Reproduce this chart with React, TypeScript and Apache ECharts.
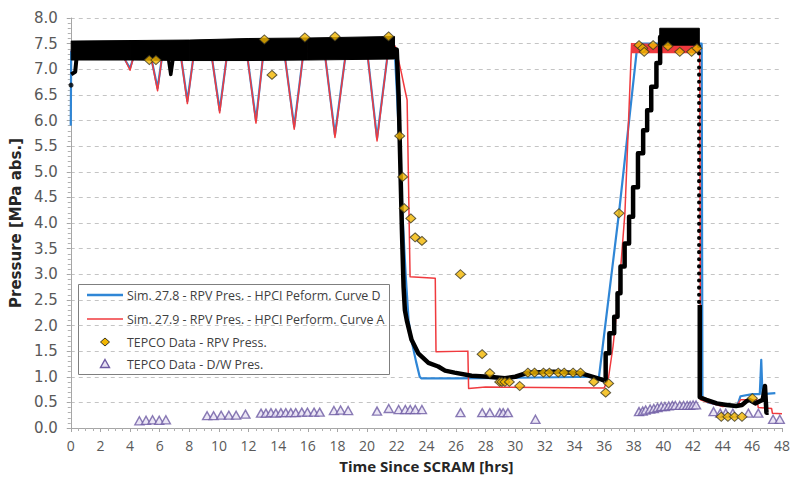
import React, { useEffect, useRef } from "react";
import * as echarts from "echarts";

// ---------- data ----------
const seriesNames = [
  "Sim. 27.8 - RPV Pres. - HPCI Peform. Curve D",
  "Sim. 27.9 - RPV Pres. - HPCI Perform. Curve A",
  "TEPCO Data - RPV Press.",
  "TEPCO Data - D/W Pres.",
];
const xTitle = "Time Since SCRAM [hrs]";
const yTitle = "Pressure [MPa abs.]";

// Sim 27.8 (blue)
const simD: number[][] = [
  [0, 5.9], [0.03, 7.35], [3.5, 7.35], [3.67, 7.18], [4.0, 7.02], [4.18, 7.18], [4.3, 7.35],
  [5.35, 7.35], [5.46, 7.18], [5.86, 6.63], [6.13, 7.18], [6.25, 7.35],
  [7.35, 7.35], [7.47, 7.18], [7.87, 6.38], [8.25, 7.18], [8.35, 7.35],
  [9.45, 7.35], [9.55, 7.18], [10.05, 6.2], [10.5, 7.18], [10.6, 7.35],
  [11.85, 7.35], [11.95, 7.18], [12.5, 6.0], [12.95, 7.18], [13.05, 7.35],
  [14.35, 7.35], [14.48, 7.18], [15.08, 5.88], [15.64, 7.18], [15.75, 7.35],
  [17.05, 7.35], [17.2, 7.18], [17.83, 5.72], [18.5, 7.18], [18.6, 7.35],
  [19.95, 7.35], [20.07, 7.18], [20.67, 5.65], [21.34, 7.18], [21.45, 7.35],
  [21.85, 7.45], [22.0, 6.6], [22.2, 5.4], [22.4, 4.1], [22.6, 3.0], [22.8, 2.1], [23.0, 1.7],
  [23.3, 1.3], [23.55, 1.0], [23.65, 0.97], [26, 0.97], [30, 0.98], [35.65, 1.0],
  [37.0, 4.2], [38.25, 7.5], [42.58, 7.5], [42.63, 0.6], [43.0, 0.5], [44.0, 0.43],
  [45.0, 0.45], [45.2, 0.62], [46.0, 0.66], [46.5, 0.66], [46.6, 1.33], [46.68, 0.66], [47.55, 0.68],
];

// Sim 27.9 (red)
const simA: number[][] = [
  [0, 7.35], [3.5, 7.35], [3.67, 7.18], [4.0, 6.98], [4.18, 7.18], [4.3, 7.35],
  [5.35, 7.35], [5.46, 7.18], [5.86, 6.58], [6.13, 7.18], [6.25, 7.35],
  [7.35, 7.35], [7.47, 7.18], [7.87, 6.33], [8.25, 7.18], [8.35, 7.35],
  [9.45, 7.35], [9.55, 7.18], [10.05, 6.15], [10.5, 7.18], [10.6, 7.35],
  [11.85, 7.35], [11.95, 7.18], [12.5, 5.95], [12.95, 7.18], [13.05, 7.35],
  [14.35, 7.35], [14.48, 7.18], [15.08, 5.83], [15.64, 7.18], [15.75, 7.35],
  [17.05, 7.35], [17.2, 7.18], [17.83, 5.67], [18.5, 7.18], [18.6, 7.35],
  [19.95, 7.35], [20.07, 7.18], [20.67, 5.6], [21.34, 7.18], [21.45, 7.35],
  [21.9, 7.45], [22.3, 6.95], [22.55, 6.6], [22.7, 6.4], [22.9, 2.95], [24.6, 2.92],
  [24.65, 1.49], [26.8, 1.5], [26.85, 0.77], [28.0, 0.8], [36.0, 0.78], [36.3, 1.0],
  [36.6, 1.6], [37.0, 2.7], [37.4, 4.2], [37.85, 7.5], [42.45, 7.45], [42.5, 0.55],
  [43.0, 0.5], [44.0, 0.42], [45.0, 0.45], [45.2, 0.55], [46.3, 0.55], [46.4, 0.4],
  [47.3, 0.38], [47.35, 0.29], [48.0, 0.28],
];
const simATop: number[][] = [[37.85, 7.4], [42.45, 7.4]];

// Unlabelled black trace
const blackBandT = [0.03, 4, 8, 12, 16, 21.85];
const blackBandLow = [7.18, 7.18, 7.17, 7.17, 7.18, 7.2];
const blackBandHigh = [7.55, 7.56, 7.57, 7.6, 7.61, 7.64];
const blackBand2T = [39.75, 42.42];
const blackBand2Low = [7.47, 7.47];
const blackBand2High = [7.8, 7.8];
const blackStartDot: number[][] = [[0.02, 6.69]];
const blackEdge: number[][] = [[0.03, 6.9], [0.3, 6.95], [0.4, 7.25]];
const blackSpike: number[][] = [[6.6, 7.2], [6.75, 6.9], [6.9, 7.2]];
const blackDecay: number[][] = [
  [21.75, 7.4], [22.0, 7.38], [22.13, 6.47], [22.24, 5.16], [22.35, 3.86], [22.46, 2.76],
  [22.55, 2.3], [22.68, 2.1], [23.0, 1.72], [23.47, 1.45], [24.14, 1.27], [24.8, 1.2],
  [25.26, 1.12], [25.9, 1.08], [27.05, 1.02], [28.2, 1.0], [29.3, 0.97], [30.0, 1.0],
  [30.85, 1.08], [32.6, 1.1], [34.4, 1.07], [35.8, 0.95], [36.05, 0.92],
];
const blackStairs: number[][] = [
  [36.05, 0.92], [36.15, 1.46], [36.55, 1.85], [36.8, 2.17], [37.0, 2.63], [37.2, 3.15],
  [37.56, 3.6], [37.8, 4.12], [38.1, 4.7], [38.46, 5.36], [38.8, 5.81], [39.0, 6.2],
  [39.35, 6.66], [39.7, 7.12], [39.85, 7.63],
];
const blackDropDots: number[][] = [[42.4, 7.45], [42.4, 2.4]];
const blackTail: number[][] = [
  [42.45, 2.4], [42.45, 0.6], [42.9, 0.55], [43.6, 0.48], [44.27, 0.45], [44.9, 0.43],
  [45.3, 0.45], [45.6, 0.52], [45.8, 0.55], [46.2, 0.48], [46.7, 0.55], [46.85, 0.82],
  [46.95, 0.3], [47.1, 0.3],
];

// TEPCO RPV pressure (diamonds)
const tepcoRpv: number[][] = [
  [5.3, 7.18], [5.75, 7.18], [13.07, 7.58], [13.58, 6.89], [15.8, 7.62], [17.83, 7.64],
  [21.45, 7.64], [22.2, 5.7], [22.4, 4.9], [22.5, 4.29], [22.95, 4.09], [23.24, 3.72],
  [23.7, 3.65], [26.3, 3.0], [27.76, 1.44], [28.28, 1.07], [28.95, 0.9], [29.1, 0.9],
  [29.3, 0.9], [29.6, 0.9], [30.3, 0.82], [30.85, 1.08], [31.3, 1.08], [31.9, 1.08],
  [32.3, 1.08], [32.9, 1.08], [33.3, 1.08], [33.9, 1.08], [34.4, 1.08], [35.3, 0.9],
  [36.1, 0.69], [36.3, 0.87], [37.0, 4.19], [38.35, 7.47], [38.6, 7.41], [38.7, 7.34],
  [39.3, 7.47], [40.3, 7.45], [41.1, 7.34], [41.9, 7.34], [42.26, 7.41],
  [43.9, 0.22], [44.35, 0.22], [44.8, 0.22], [45.3, 0.22], [46.0, 0.58],
];

// TEPCO D/W pressure (triangles)
const tepcoDw: number[][] = [
  [4.63, 0.14], [5.08, 0.15], [5.52, 0.16], [5.97, 0.15], [6.42, 0.16],
  [9.2, 0.24], [9.64, 0.24], [10.15, 0.25], [10.67, 0.25], [11.16, 0.25], [11.79, 0.27],
  [12.84, 0.29], [13.17, 0.29], [13.51, 0.3], [13.84, 0.29], [14.18, 0.3], [14.51, 0.3],
  [14.85, 0.3], [15.18, 0.3], [15.59, 0.31], [15.97, 0.31], [16.42, 0.31], [16.8, 0.31],
  [17.76, 0.34], [18.21, 0.35], [18.72, 0.34],
  [20.67, 0.33], [21.46, 0.38], [22.13, 0.36], [22.58, 0.36], [22.91, 0.36], [23.25, 0.36], [23.7, 0.36],
  [26.3, 0.3], [27.77, 0.3], [28.28, 0.3], [28.95, 0.3], [29.18, 0.3], [29.5, 0.3],
  [31.36, 0.17],
  [38.35, 0.32], [38.6, 0.33], [38.8, 0.35], [39.1, 0.37], [39.35, 0.38], [39.6, 0.4],
  [39.85, 0.42], [40.1, 0.42], [40.36, 0.43], [40.6, 0.44], [40.8, 0.44], [41.1, 0.44],
  [41.36, 0.44], [41.6, 0.44], [41.8, 0.44], [42.0, 0.45], [42.2, 0.45],
  [43.38, 0.32], [43.83, 0.29], [44.2, 0.29], [44.68, 0.29], [45.73, 0.29], [46.4, 0.29],
  [47.4, 0.17], [47.85, 0.17],
];

// ---------- styles ----------
const FONT = "Open Sans, Noto Sans, sans-serif";
const WIDE_FONT = "DejaVu Sans, Open Sans, sans-serif";
const BLUE = "#2f86d6";
const RED = "#f03a3e";
const YELLOW = "#f2b600";
const DIAMOND_EDGE = "#3b3620";
const TRI_EDGE = "#6d5aa3";
const TRI_FILL = "#e6e0f2";

function bandSeries(T: number[], lo: number[], hi: number[]) {
  return {
    type: "custom",
    clip: false,
    silent: true,
    z: 3,
    data: T.map((t, i) => [t, lo[i], hi[i]]),
    encode: { x: 0, y: 1 },
    renderItem: (params: any, api: any) => {
      const i = params.dataIndex;
      if (i >= T.length - 1) return null;
      const a = api.coord([T[i], lo[i]]);
      const b = api.coord([T[i + 1], lo[i + 1]]);
      const c = api.coord([T[i + 1], hi[i + 1]]);
      const d = api.coord([T[i], hi[i]]);
      return {
        type: "polygon",
        shape: { points: [a, b, c, d] },
        style: { fill: "#000", stroke: "#000", lineWidth: 1 },
      };
    },
  };
}

export default function App() {
  const ref = useRef<HTMLDivElement>(null);
  useEffect(() => {
    if (!ref.current) return;
    const chart = echarts.init(ref.current, undefined, { renderer: "svg" });
    const line = (data: number[][], color: string, width: number, extra: any = {}, ls: any = {}) => ({
      type: "line",
      data,
      symbol: "none",
      showSymbol: false,
      clip: false,
      silent: true,
      z: 2,
      ...extra,
      lineStyle: { color, width, join: "round", ...ls },
    });
    const rowY = [295, 319, 342, 364];
    const option: any = {
      animation: false,
      backgroundColor: "#ffffff",
      grid: { left: 67, right: 12, top: 18, bottom: 54 },
      xAxis: {
        type: "value",
        min: 0,
        max: 48,
        interval: 2,
        name: xTitle,
        nameLocation: "middle",
        nameGap: 30,
        nameTextStyle: { fontFamily: FONT, fontSize: 15, fontWeight: "bold", color: "#262626" },
        axisLine: { show: true, lineStyle: { color: "#a6a6a6" } },
        axisTick: { show: true, length: 4, lineStyle: { color: "#a6a6a6" } },
        minorTick: { show: true, splitNumber: 4, length: 3, lineStyle: { color: "#b0b0b0" } },
        axisLabel: { fontFamily: FONT, fontSize: 14, color: "#595959", margin: 10 },
        splitLine: { show: false },
      },
      yAxis: {
        type: "value",
        min: 0,
        max: 8,
        interval: 0.5,
        name: yTitle,
        nameLocation: "middle",
        nameGap: 42,
        nameTextStyle: { fontFamily: WIDE_FONT, fontSize: 15, fontWeight: "bold", color: "#262626" },
        axisLine: { show: true, lineStyle: { color: "#a6a6a6" } },
        axisTick: { show: true, length: 4, lineStyle: { color: "#a6a6a6" } },
        minorTick: { show: true, splitNumber: 5, length: 3, lineStyle: { color: "#b0b0b0" } },
        axisLabel: {
          fontFamily: WIDE_FONT,
          fontSize: 15,
          color: "#595959",
          margin: 13,
          formatter: (v: number) => v.toFixed(1),
        },
        splitLine: { show: true, lineStyle: { color: "#c4c4c4", type: [4, 4] } },
      },
      series: [
        line(simD, BLUE, 2.2, { name: seriesNames[0] }),
        line(simA, RED, 1.5, { name: seriesNames[1] }),
        line(simATop, RED, 9),
        bandSeries(blackBandT, blackBandLow, blackBandHigh),
        bandSeries(blackBand2T, blackBand2Low, blackBand2High),
        line(blackEdge, "#000", 4, { z: 3 }),
        line(blackSpike, "#000", 3.5, { z: 3 }),
        line(blackDecay, "#000", 4.5, { z: 3 }),
        line(blackStairs, "#000", 4.5, { z: 3, step: "middle" }),
        line(blackDropDots, "#000", 4, { z: 3 }, { type: [0.1, 7], cap: "round" }),
        line(blackTail, "#000", 4.5, { z: 3 }),
        {
          type: "scatter",
          data: blackStartDot,
          symbol: "circle",
          symbolSize: 5,
          clip: false,
          silent: true,
          z: 3,
          itemStyle: { color: "#000" },
        },
        {
          type: "scatter",
          name: seriesNames[3],
          data: tepcoDw,
          symbol: "triangle",
          symbolSize: [9, 8],
          clip: false,
          silent: true,
          z: 4,
          itemStyle: { color: TRI_FILL, borderColor: TRI_EDGE, borderWidth: 1.4 },
        },
        {
          type: "scatter",
          name: seriesNames[2],
          data: tepcoRpv,
          symbol: "diamond",
          symbolSize: [10, 9],
          clip: false,
          silent: true,
          z: 4,
          itemStyle: { color: YELLOW, borderColor: DIAMOND_EDGE, borderWidth: 1 },
        },
      ],
      graphic: [
        {
          type: "group",
          z: 50,
          children: [
            {
              type: "rect",
              shape: { x: 78.5, y: 284.5, width: 311, height: 90 },
              style: { fill: "#ffffff", stroke: "#7f7f7f", lineWidth: 1 },
            },
            {
              type: "line",
              shape: { x1: 87, y1: rowY[0], x2: 123, y2: rowY[0] },
              style: { stroke: BLUE, lineWidth: 2.5 },
            },
            {
              type: "line",
              shape: { x1: 87, y1: rowY[1], x2: 123, y2: rowY[1] },
              style: { stroke: RED, lineWidth: 1.5 },
            },
            {
              type: "polygon",
              shape: { points: [[105, rowY[2] - 4], [109.5, rowY[2]], [105, rowY[2] + 4], [100.5, rowY[2]]] },
              style: { fill: YELLOW, stroke: DIAMOND_EDGE, lineWidth: 1 },
            },
            {
              type: "polygon",
              shape: { points: [[105, rowY[3] - 4.5], [109.5, rowY[3] + 3.5], [100.5, rowY[3] + 3.5]] },
              style: { fill: TRI_FILL, stroke: TRI_EDGE, lineWidth: 1.4 },
            },
            ...seriesNames.map((n, i) => ({
              type: "text",
              x: 127,
              y: rowY[i],
              style: {
                text: n,
                fill: "#404040",
                fontSize: 12.4,
                fontFamily: FONT,
                verticalAlign: "middle",
                align: "left",
              },
            })),
          ],
        },
      ],
    };
    chart.setOption(option);
    return () => chart.dispose();
  }, []);
  return <div ref={ref} style={{ width: 794, height: 482, position: "absolute", left: 0, top: 0 }} />;
}
